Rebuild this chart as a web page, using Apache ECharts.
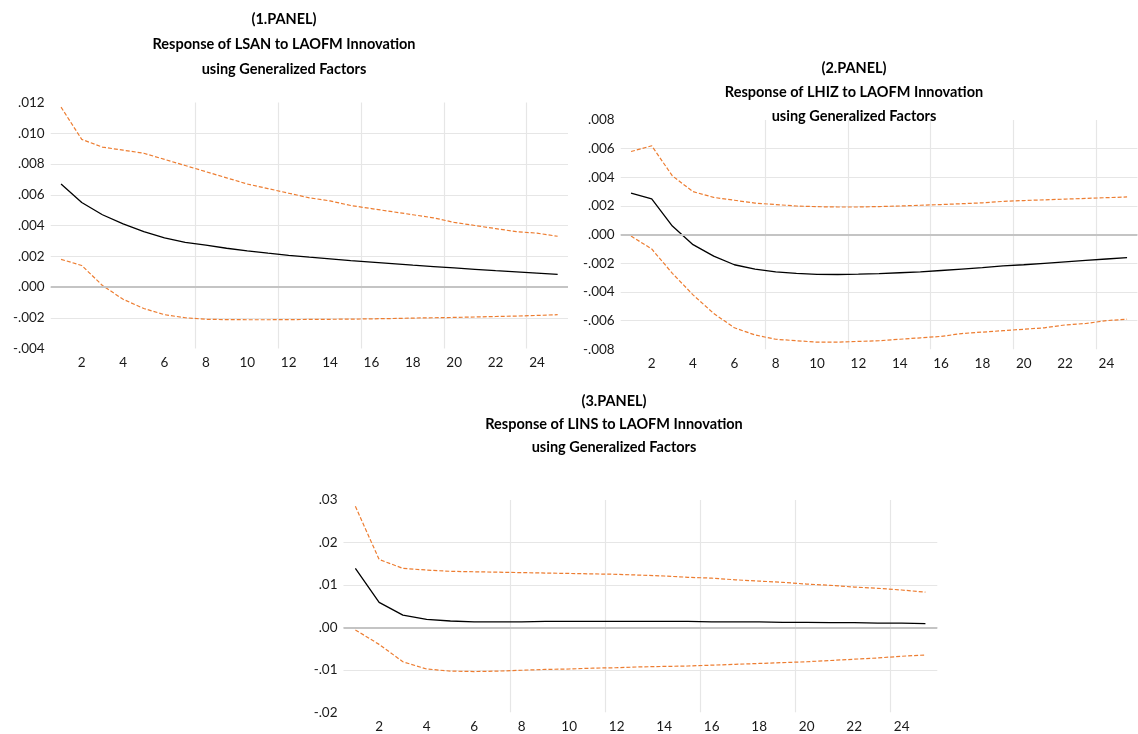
<!DOCTYPE html>
<html><head><meta charset="utf-8">
<script src="https://cdn.jsdelivr.net/npm/echarts@6/dist/echarts.min.js"></script>
<style>html,body{margin:0;padding:0;background:#fff}#c{width:1138px;height:734px}</style>
</head><body><div id="c"></div>
<script>
// periods 1..25
const periods = ['1','2','3','4','5','6','7','8','9','10','11','12','13','14','15','16','17','18','19','20','21','22','23','24','25'];

// Panel 1: Response of LSAN
const p1Response = [0.0067,0.0055,0.0047,0.0041,0.0036,0.0032,0.0029,0.00272,0.00252,0.00235,0.0022,0.00206,0.00194,0.00183,0.00172,0.00162,0.00152,0.00142,0.00133,0.00124,0.00115,0.00106,0.00098,0.0009,0.00082];
const p1Upper = [0.0117,0.0096,0.0091,0.0089,0.0087,0.0083,0.0079,0.0075,0.0071,0.0067,0.0064,0.0061,0.0058,0.0056,0.0053,0.0051,0.0049,0.0047,0.0045,0.0042,0.0040,0.0038,0.0036,0.0035,0.0033];
const p1Lower = [0.0018,0.0014,0.0001,-0.0008,-0.0014,-0.0018,-0.0020,-0.0021,-0.00212,-0.00213,-0.00213,-0.00212,-0.00211,-0.0021,-0.00209,-0.00207,-0.00205,-0.00202,-0.002,-0.00198,-0.00195,-0.00192,-0.00189,-0.00185,-0.0018];

// Panel 2: Response of LHIZ
const p2Response = [0.0029,0.0025,0.0006,-0.0007,-0.0015,-0.0021,-0.0024,-0.0026,-0.0027,-0.00277,-0.00278,-0.00276,-0.00272,-0.00266,-0.0026,-0.0025,-0.0024,-0.0023,-0.00218,-0.0021,-0.002,-0.0019,-0.0018,-0.0017,-0.0016];
const p2Upper = [0.0058,0.0062,0.0041,0.0030,0.0026,0.0024,0.0022,0.0021,0.0020,0.00195,0.00193,0.00193,0.00196,0.002,0.00205,0.0021,0.00216,0.00222,0.00232,0.00238,0.00243,0.00248,0.00253,0.00258,0.00263];
const p2Lower = [-0.0001,-0.0010,-0.0027,-0.0042,-0.0055,-0.0065,-0.0070,-0.0073,-0.0074,-0.0075,-0.0075,-0.00745,-0.0074,-0.0073,-0.0072,-0.0071,-0.0069,-0.0068,-0.0067,-0.0066,-0.0065,-0.0063,-0.0062,-0.0060,-0.0059];

// Panel 3: Response of LINS
const p3Response = [0.0139,0.0059,0.0029,0.0019,0.0015,0.0013,0.0013,0.0013,0.0014,0.0014,0.0014,0.0014,0.0014,0.0014,0.0014,0.0013,0.0013,0.0013,0.0012,0.0012,0.0011,0.0011,0.0010,0.0010,0.0009];
const p3Upper = [0.0285,0.0160,0.0139,0.0135,0.0132,0.0131,0.0130,0.0129,0.0128,0.0127,0.0126,0.0125,0.0123,0.0121,0.0118,0.0116,0.0112,0.0109,0.0106,0.0102,0.0099,0.0095,0.0092,0.0088,0.0083];
const p3Lower = [-0.0006,-0.0040,-0.0081,-0.0098,-0.0103,-0.0104,-0.0103,-0.0101,-0.0099,-0.0098,-0.0096,-0.0095,-0.0093,-0.0092,-0.0091,-0.0089,-0.0087,-0.0085,-0.0083,-0.0081,-0.0078,-0.0075,-0.0072,-0.0068,-0.0065];

// y axis ranges [min, max, interval] and label decimals
const p1YAxis = [-0.004, 0.012, 0.002, 3];
const p2YAxis = [-0.008, 0.008, 0.002, 3];
const p3YAxis = [-0.02, 0.03, 0.01, 2];

const titles = [
  '(1.PANEL)\nResponse of LSAN to LAOFM Innovation\nusing Generalized Factors',
  '(2.PANEL)\nResponse of LHIZ to LAOFM Innovation\nusing Generalized Factors',
  '(3.PANEL)\nResponse of LINS to LAOFM Innovation\nusing Generalized Factors'
];

const FONT = 'Lato';
const ORANGE = '#ED7D31';
const GRIDC = '#e6e6e6';

const grids = [
  {left: 50.7, top: 102.5, width: 517.3, height: 246},
  {left: 620.7, top: 120, width: 516.7, height: 229.3},
  {left: 343.5, top: 500, width: 593.8, height: 212.3}
];
const titlePos = [
  {x: 284, top: 7, lh: 25},
  {x: 854, top: 56, lh: 24},
  {x: 614, top: 390, lh: 23}
];
const yDefs = [p1YAxis, p2YAxis, p3YAxis];
const dataSets = [[p1Response,p1Upper,p1Lower],[p2Response,p2Upper,p2Lower],[p3Response,p3Upper,p3Lower]];

function fmt(dec){
  return function(v){
    let s = Number(v).toFixed(dec);
    if (Math.abs(Number(s)) === 0) s = (0).toFixed(dec);
    return s.replace('0.', '.');
  };
}

const option = {
  animation: false,
  backgroundColor: '#fff',
  title: titles.map((t,i)=>({
    text: t, left: titlePos[i].x, top: titlePos[i].top, textAlign: 'center', padding: 0,
    textStyle: {fontFamily: FONT, fontWeight: 'bold', fontSize: 14.5, lineHeight: titlePos[i].lh, color: '#000'}
  })),
  grid: grids.map(g=>Object.assign({containLabel:false}, g)),
  xAxis: grids.map((g,i)=>({
    type: 'category', gridIndex: i, data: periods, boundaryGap: true,
    axisLine: {show: false}, axisTick: {show: false},
    axisLabel: {interval: function(idx){return idx % 2 === 1;}, fontFamily: FONT, fontSize: 13.5, color: '#1a1a1a', margin: 7},
    splitLine: {show: true, interval: function(idx){return idx % 4 === 3;}, showMinLine: false, showMaxLine: false, lineStyle: {color: GRIDC, width: 1.2}}
  })),
  yAxis: yDefs.map((d,i)=>({
    type: 'value', gridIndex: i, min: d[0], max: d[1], interval: d[2],
    axisLine: {show: false}, axisTick: {show: false},
    axisLabel: {formatter: fmt(d[3]), fontFamily: FONT, fontSize: 13.5, color: '#1a1a1a', margin: 6},
    splitLine: {show: true, showMinLine: false, showMaxLine: false, lineStyle: {color: GRIDC, width: 1.2}}
  })),
  series: []
};

dataSets.forEach((ds,i)=>{
  option.series.push({
    type: 'line', xAxisIndex: i, yAxisIndex: i, data: [], symbol: 'none', z: 1, silent: true,
    markLine: {silent: true, symbol: ['none','none'], label: {show: false}, animation: false,
      lineStyle: {color: '#c4c4c4', width: 2, type: 'solid'}, data: [{yAxis: 0}]}
  });
  option.series.push({type:'line', xAxisIndex:i, yAxisIndex:i, data: ds[1], symbol:'none', z: 3,
    lineStyle:{color: ORANGE, width: 1.2, type: [4,2]}});
  option.series.push({type:'line', xAxisIndex:i, yAxisIndex:i, data: ds[2], symbol:'none', z: 3,
    lineStyle:{color: ORANGE, width: 1.2, type: [4,2]}});
  option.series.push({type:'line', xAxisIndex:i, yAxisIndex:i, data: ds[0], symbol:'none', z: 4,
    lineStyle:{color: '#000', width: 1.3}});
});

const chart = echarts.init(document.getElementById('c'), null, {renderer: 'canvas'});
chart.setOption(option);
</script>
</body></html>
